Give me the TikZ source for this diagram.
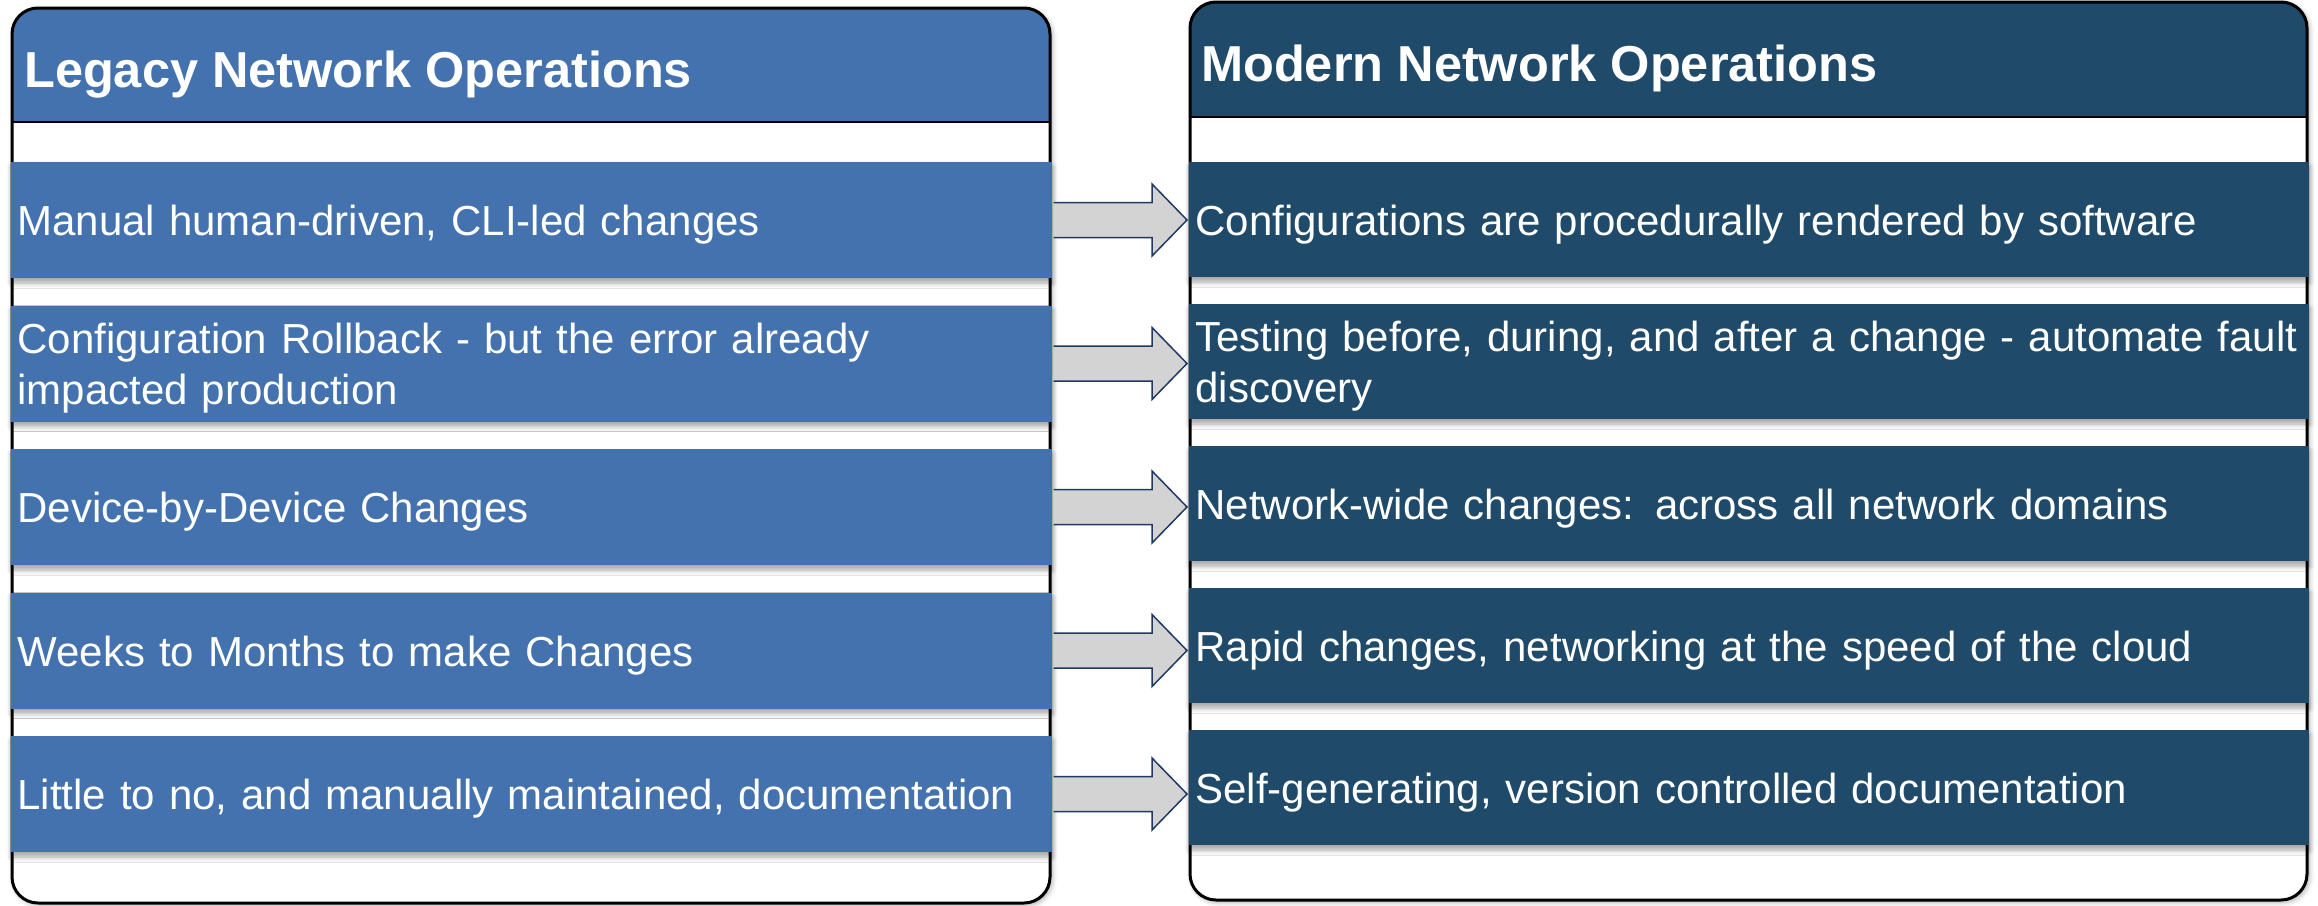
\documentclass[tikz,border=0pt]{standalone}
\usepackage{fontspec}
\setmainfont{Liberation Sans}
\usetikzlibrary{positioning, shadows.blur}

\definecolor{legacyblue}{HTML}{4472AF}
\definecolor{modernblue}{HTML}{204A6A}
\definecolor{arrowgray}{HTML}{D3D3D3}
\definecolor{arrowline}{HTML}{1F3864}

\begin{document}
\begin{tikzpicture}[
	x=1pt, y=-1pt,
	panel/.style = {fill=white, inner sep=0pt, outer sep=0pt,
		blur shadow={shadow xshift=2pt, shadow yshift=-2pt, shadow blur radius=5pt, shadow opacity=35}},
	rim/.style = {draw=black, line width=3pt, rounded corners=26pt},
	headtext/.style = {text=white, inner sep=0pt, font=\fontsize{50.5pt}{60pt}\selectfont\bfseries},
	rowbox/.style = {text=white, align=left, inner xsep=7pt, inner ysep=0pt, outer sep=0pt,
		font=\fontsize{42pt}{51pt}\selectfont,
		execute at begin node={\rule{0pt}{40pt}},
		blur shadow={shadow xshift=1pt, shadow yshift=-5pt, shadow blur radius=5pt, shadow opacity=35}},
	legrow/.style = {rowbox, fill=legacyblue, text width=1027pt, minimum height=116pt},
	modrow/.style = {rowbox, fill=modernblue, text width=1106pt, minimum height=115pt},
	fatarrow/.style = {draw=arrowline, fill=arrowgray, line width=1.5pt}
	]
	\useasboundingbox (0,0) rectangle (2318,905);
%
	% the two panels
	\node[panel, rounded corners=26pt, minimum width=1038pt, minimum height=895pt] (legacy) at (531,455.5) {};
	\node[panel, rounded corners=26pt, minimum width=1117pt, minimum height=898pt] (modern) at (1748.5,451) {};
%
	\begin{scope}
		\clip[rounded corners=26pt] (legacy.north west) rectangle (legacy.south east);
		\fill[legacyblue] (legacy.north west) rectangle (legacy.east |- 0,122);
	\end{scope}
	\begin{scope}
		\clip[rounded corners=26pt] (modern.north west) rectangle (modern.south east);
		\fill[modernblue] (modern.north west) rectangle (modern.east |- 0,117);
	\end{scope}
	\draw[line width=1.5pt] (legacy.west |- 0,122) -- (legacy.east |- 0,122);
	\draw[line width=1.5pt] (modern.west |- 0,117) -- (modern.east |- 0,117);
	\draw[rim] (legacy.north west) rectangle (legacy.south east);
	\draw[rim] (modern.north west) rectangle (modern.south east);
%
	\node[headtext, anchor=base west] (lhead) at (24,87) {Legacy Network Operations};
	\node[headtext, anchor=base west] (mhead) at (1201,81) {Modern Network Operations};
%
	% legacy rows
	\node[legrow, anchor=north west] (l1) at (10.5,162) {Manual human-driven, CLI-led changes};
	\node[legrow, below=27.5pt of l1] (l2) {Configuration Rollback - but the error already\\impacted production};
	\node[legrow, below=27.5pt of l2] (l3) {Device-by-Device Changes};
	\node[legrow, below=27.5pt of l3] (l4) {Weeks to Months to make Changes};
	\node[legrow, below=27.5pt of l4] (l5) {Little to no, and manually maintained, documentation};
%
	% modern rows
	\node[modrow, anchor=north west] (r1) at (1188.5,162) {Configurations are procedurally rendered by software};
	\node[modrow, below=27pt of r1] (r2) {Testing before, during, and after a change - automate fault\\discovery};
	\node[modrow, below=27pt of r2] (r3) {Network-wide changes: across all network domains};
	\node[modrow, below=27pt of r3] (r4) {Rapid changes, networking at the speed of the cloud};
	\node[modrow, below=27pt of r4] (r5) {Self-generating, version controlled documentation};
%
	\foreach \i in {1,...,5}{
		\coordinate (t\i) at (l\i.east -| r\i.west);
		\draw[fatarrow]
		([shift={(2pt,17.5pt)}]l\i.east) -- ([shift={(-36.5pt,17.5pt)}]t\i)
		-- ([shift={(-36.5pt,36pt)}]t\i) -- ([xshift=-1.5pt]t\i)
		-- ([shift={(-36.5pt,-36pt)}]t\i) -- ([shift={(-36.5pt,-17.5pt)}]t\i)
		-- ([shift={(2pt,-17.5pt)}]l\i.east);
	}
\end{tikzpicture}
\end{document}
